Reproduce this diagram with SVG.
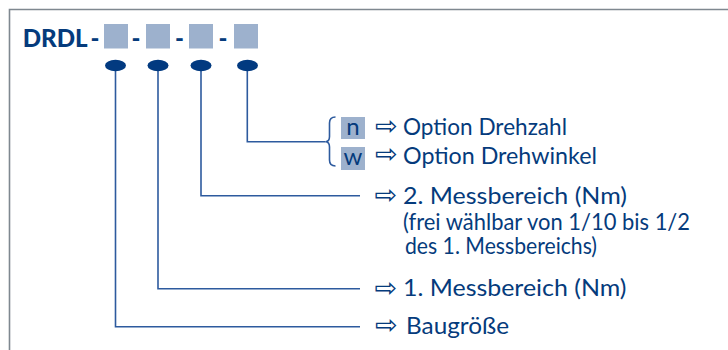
<svg xmlns="http://www.w3.org/2000/svg" width="728" height="350" viewBox="0 0 728 350">
<style>
  .t { font-family: Lato, "Open Sans", "Liberation Sans", sans-serif; fill: #053b7c; }
  .lbl { font-size: 24px; }
  .sm { font-size: 22.5px; }
  .arr { font-family: "DejaVu Sans", sans-serif; font-size: 27px; fill: #053b7c; }
  .code { font-family: Lato, "Liberation Sans", sans-serif; font-weight: 900; fill: #053b7c; }
  .sq { fill: #9db1cd; }
  .dot { fill: #023a80; }
  .ln { fill: none; stroke: #2d5a9e; stroke-width: 1.6; }
</style>
<rect width="728" height="350" fill="#ffffff"/>
<path d="M9.5 350 L9.5 9.5 L728 9.5" fill="none" stroke="#7f8890" stroke-width="1.6"/>

<g id="code">
  <text class="code" x="22.7" y="47" font-size="24" textLength="65" lengthAdjust="spacingAndGlyphs">DRDL</text>
  <text class="code" x="95" y="47" font-size="24" text-anchor="middle">-</text>
  <text class="code" x="136" y="47" font-size="24" text-anchor="middle">-</text>
  <text class="code" x="179.5" y="47" font-size="24" text-anchor="middle">-</text>
  <text class="code" x="223" y="47" font-size="24" text-anchor="middle">-</text>
  <rect class="sq" x="104" y="24" width="24" height="24.5"/>
  <rect class="sq" x="146" y="24" width="24" height="24.5"/>
  <rect class="sq" x="189" y="24" width="24" height="24.5"/>
  <rect class="sq" x="234" y="24" width="24" height="24.5"/>
</g>

<g id="connectors">
  <path class="ln" d="M115.5 65 V326.7 H360"/>
  <path class="ln" d="M158 65 V288.7 H360"/>
  <path class="ln" d="M201 65 V195.7 H360"/>
  <path class="ln" d="M247.3 65 V141.7 H325.5"/>
  <path class="ln" d="M335.5 117 Q329.5 117 329.5 123 L329.5 136.5 Q329.5 141.7 325.5 141.7 Q329.5 141.7 329.5 147 L329.5 160 Q329.5 166 335.5 166"/>
</g>

<g id="dots">
  <ellipse class="dot" cx="115.5" cy="65.5" rx="10.5" ry="5.8"/>
  <ellipse class="dot" cx="158" cy="65.5" rx="10.5" ry="5.8"/>
  <ellipse class="dot" cx="201" cy="65.5" rx="10.5" ry="5.8"/>
  <ellipse class="dot" cx="247.5" cy="65.5" rx="10.5" ry="5.8"/>
</g>

<g id="option-n">
  <rect class="sq" x="341" y="117" width="24" height="22"/>
  <text class="t lbl" x="353" y="135" text-anchor="middle">n</text>
  <text class="arr" x="375" y="134.5">⇨</text>
  <text class="t lbl" x="403" y="135" textLength="164" lengthAdjust="spacingAndGlyphs">Option Drehzahl</text>
</g>

<g id="option-w">
  <rect class="sq" x="341" y="147" width="24" height="23"/>
  <text class="t lbl" x="353" y="164.5" text-anchor="middle">w</text>
  <text class="arr" x="375" y="162.5">⇨</text>
  <text class="t lbl" x="403" y="164" textLength="194" lengthAdjust="spacingAndGlyphs">Option Drehwinkel</text>
</g>

<g id="range2">
  <text class="arr" x="374.5" y="203.5">⇨</text>
  <text class="t lbl" x="403" y="204" textLength="224" lengthAdjust="spacingAndGlyphs">2. Messbereich (Nm)</text>
  <text class="t sm" x="403" y="229.5" textLength="287" lengthAdjust="spacingAndGlyphs">(frei wählbar von 1/10 bis 1/2</text>
  <text class="t sm" x="405" y="254" textLength="192" lengthAdjust="spacingAndGlyphs">des 1. Messbereichs)</text>
</g>

<g id="range1">
  <text class="arr" x="374.5" y="296.5">⇨</text>
  <text class="t lbl" x="403" y="295.5" textLength="223.5" lengthAdjust="spacingAndGlyphs">1. Messbereich (Nm)</text>
</g>

<g id="size">
  <text class="arr" x="375" y="334">⇨</text>
  <text class="t lbl" x="406" y="333.5" textLength="103" lengthAdjust="spacingAndGlyphs">Baugröße</text>
</g>
</svg>
